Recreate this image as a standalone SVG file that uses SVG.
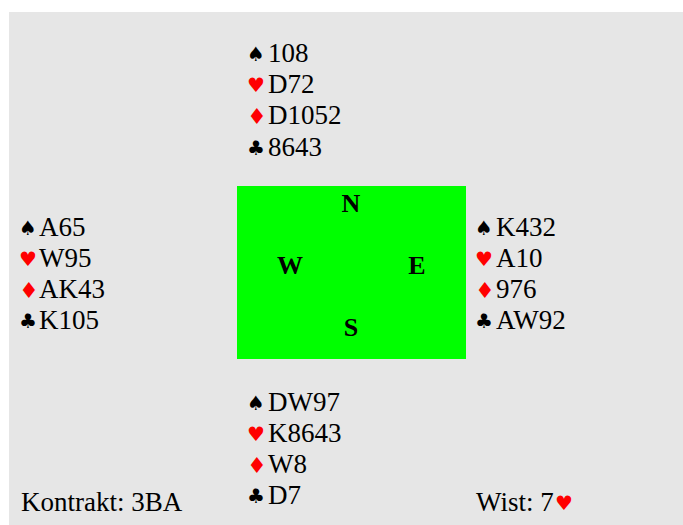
<svg xmlns="http://www.w3.org/2000/svg" width="683" height="525" viewBox="0 0 683 525">
<style>
.t{font-family:"Liberation Serif","Times New Roman",serif;font-size:27px;fill:#000}
.s{font-family:"DejaVu Sans",sans-serif;font-size:20px}
.b{fill:#000}.r{fill:#ff0000}
.dm{font-family:"DejaVu Sans",sans-serif;font-size:22px}
.d{font-family:"Liberation Serif","Times New Roman",serif;font-size:26px;font-weight:bold;fill:#000;text-anchor:middle}
</style>
<rect x="0" y="0" width="683" height="525" fill="#ffffff"/>
<rect x="9" y="12" width="674" height="513" fill="#e6e6e6"/>
<g id="table">
<rect x="237" y="186" width="229" height="173" fill="#00ff00"/>
<text class="d" x="351" y="212">N</text>
<text class="d" x="290" y="274">W</text>
<text class="d" x="417" y="274">E</text>
<text class="d" x="351" y="336">S</text>
</g>
<g id="north">
<text class="s b" x="247" y="61">♠</text><text class="t" x="268" y="62">108</text>
<text class="s r" x="247" y="92">♥</text><text class="t" x="268" y="93">D72</text>
<text class="dm r" x="247" y="124">♦</text><text class="t" x="268" y="124">D1052</text>
<text class="s b" x="247" y="155">♣</text><text class="t" x="268" y="156">8643</text>
</g>
<g id="west">
<text class="s b" x="19" y="235">♠</text><text class="t" x="39" y="236">A65</text>
<text class="s r" x="19" y="266">♥</text><text class="t" x="39" y="267">W95</text>
<text class="dm r" x="19" y="298">♦</text><text class="t" x="39" y="298">AK43</text>
<text class="s b" x="19" y="328">♣</text><text class="t" x="39" y="329">K105</text>
</g>
<g id="east">
<text class="s b" x="475" y="235">♠</text><text class="t" x="496" y="236">K432</text>
<text class="s r" x="475" y="266">♥</text><text class="t" x="496" y="267">A10</text>
<text class="dm r" x="475" y="298">♦</text><text class="t" x="496" y="298">976</text>
<text class="s b" x="475" y="328">♣</text><text class="t" x="496" y="329">AW92</text>
</g>
<g id="south">
<text class="s b" x="247" y="410">♠</text><text class="t" x="268" y="411">DW97</text>
<text class="s r" x="247" y="441">♥</text><text class="t" x="268" y="442">K8643</text>
<text class="dm r" x="247" y="473">♦</text><text class="t" x="268" y="473">W8</text>
<text class="s b" x="247" y="503">♣</text><text class="t" x="268" y="504">D7</text>
</g>
<g id="contract">
<text class="t" x="21" y="511">Kontrakt: 3BA</text>
</g>
<g id="lead">
<text class="t" x="476" y="511">Wist: 7</text><text class="s r" x="555" y="510">♥</text>
</g>
<g id="connectors"></g>
</svg>
